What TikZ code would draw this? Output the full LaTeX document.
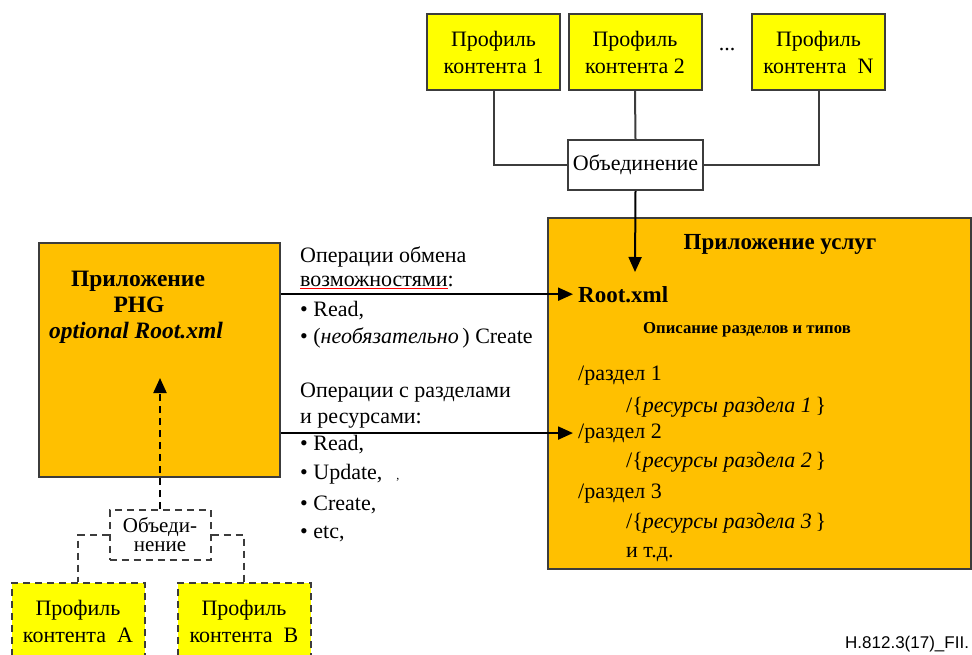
\documentclass[tikz,border=0pt]{standalone}
\usepackage{fontspec}
\setmainfont{Liberation Serif}
\newfontfamily\figsans{Liberation Sans}
\usetikzlibrary{arrows.meta}

\definecolor{appfill}{HTML}{FFC000}
\definecolor{proffill}{HTML}{FFFF00}
\definecolor{edgegray}{HTML}{3C3C3C}

\begin{document}
\begin{tikzpicture}[x=1pt,y=-1pt]
	\tikzstyle{every node}+=[inner sep=0pt]
	\tikzstyle{profbox}=[draw=edgegray,fill=proffill,line width=2pt,minimum width=133,minimum height=76,align=center,font=\fontsize{22}{27}\selectfont]
	\tikzstyle{appbox}=[draw=edgegray,fill=appfill,line width=2pt]
	\tikzstyle{txt}=[anchor=base west,font=\fontsize{22}{27}\selectfont]
	\tikzstyle{link}=[edgegray,line width=2pt]
	\tikzstyle{dashline}=[dash pattern=on 7pt off 5pt]
	\tikzstyle{arr}=[black,line width=2pt,-{Triangle[length=15pt,width=13pt]}]
	\clip (0,0) rectangle (972,655);
	% profiles on top
	\node [profbox] (prof1) at (493.5,52) {Профиль\\контента 1};
	\node [profbox] (prof2) at (635,52) {Профиль\\контента 2};
	\node [profbox] (profN) at (818.5,52) {Профиль\\контента\ \ N};
	\draw (727,50) node [font=\fontsize{22}{27}\selectfont] (dots) {...};
	\node [draw=edgegray,fill=white,line width=2pt,minimum width=135,minimum height=50,font=\fontsize{22}{27}\selectfont] (union) at (635.5,165) {Объединение};
	\draw [link] (prof1.south) |- (union.west);
	\draw [link] (prof2.south) -- (union.north);
	\draw [link] (profN.south) |- (union.east);
	% service application
	\node [appbox,minimum width=423,minimum height=351] (srv) at (759.5,393.5) {};
	\coordinate (rootin) at (635,272);
	\draw [arr] (union.south) -- (rootin);
	\draw (780,250) node [anchor=base,font=\fontsize{23}{27}\selectfont\bfseries] (srvtitle) {Приложение услуг};
	\draw (578,302) node [txt,font=\fontsize{23}{27}\selectfont\bfseries] (root) {Root.xml};
	\draw (747,333) node [anchor=base,font=\fontsize{16.7}{20}\selectfont\bfseries] (descr) {Описание разделов и типов};
	\draw (578,380) node [txt] (sec1) {/раздел 1};
	\draw (626,412) node [txt] (res1) {/\{\textit{ресурсы раздела 1}\,\}};
	\draw (578,438) node [txt] (sec2) {/раздел 2};
	\draw (626,467) node [txt] (res2) {/\{\textit{ресурсы раздела 2}\,\}};
	\draw (578,498) node [txt] (sec3) {/раздел 3};
	\draw (626,528) node [txt] (res3) {/\{\textit{ресурсы раздела 3}\,\}};
	\draw (626,557) node [txt] (etc) {и т.д.};
	% PHG application
	\node [appbox,minimum width=241,minimum height=234] (phg) at (159.5,360) {};
	\draw (138,287) node [anchor=base,font=\fontsize{23.5}{27}\selectfont\bfseries] (phg1) {Приложение};
	\draw (139,312) node [anchor=base,font=\fontsize{23.5}{27}\selectfont\bfseries] (phg2) {PHG};
	\draw (136,338) node [anchor=base,font=\fontsize{23.5}{27}\selectfont\bfseries\itshape] (phg3) {optional Root.xml};
	% operations
	\draw (300,262) node [txt] (ops1a) {Операции обмена};
	\draw (300,287) node [txt] (ops1b) {{\color{red}$\underline{\hbox{\color{black}возможностями}}$}:};
	\draw (300,316) node [txt] (ops1c) {\textbullet\ Read,};
	\draw (300,343) node [txt] (ops1d) {\textbullet\ (\textit{необязательно}\,) Create};
	\draw (300,397) node [txt] (ops2a) {Операции с разделами};
	\draw (300,423) node [txt] (ops2b) {и ресурсами:};
	\draw (300,450) node [txt] (ops2c) {\textbullet\ Read,};
	\draw (300,479) node [txt] (ops2d) {\textbullet\ Update,\hspace{14pt}{\fontsize{12}{14}\selectfont ,}};
	\draw (300,510) node [txt] (ops2e) {\textbullet\ Create,};
	\draw (300,538) node [txt] (ops2f) {\textbullet\ etc,};
	\draw [arr,shorten >=5pt] (phg.east |- root) -- (root.west);
	\draw [arr,shorten >=5pt] (phg.east |- sec2) -- (sec2.west);
	% local profiles
	\node [profbox,dashline] (profA) at (78,621) {Профиль\\контента\ \ A};
	\node [profbox,dashline] (profB) at (244,621) {Профиль\\контента\ \ B};
	\node [draw=edgegray,fill=white,dashline,line width=2pt,minimum width=101,minimum height=50,align=center,font=\fontsize{21}{19}\selectfont] (merge) at (160,535) {Объеди-\\нение};
	\draw [link,dashline] (merge.west) -| (profA.north);
	\draw [link,dashline] (merge.east) -| (profB.north);
	\coordinate (phgin) at (160,378);
	\draw [arr,dashline] (merge.north) -- (phgin);
	\draw (845,648) node [anchor=base west,font=\figsans\fontsize{17}{20}\selectfont] (figid) {H.812.3(17)\_FII.};
\end{tikzpicture}
\end{document}
